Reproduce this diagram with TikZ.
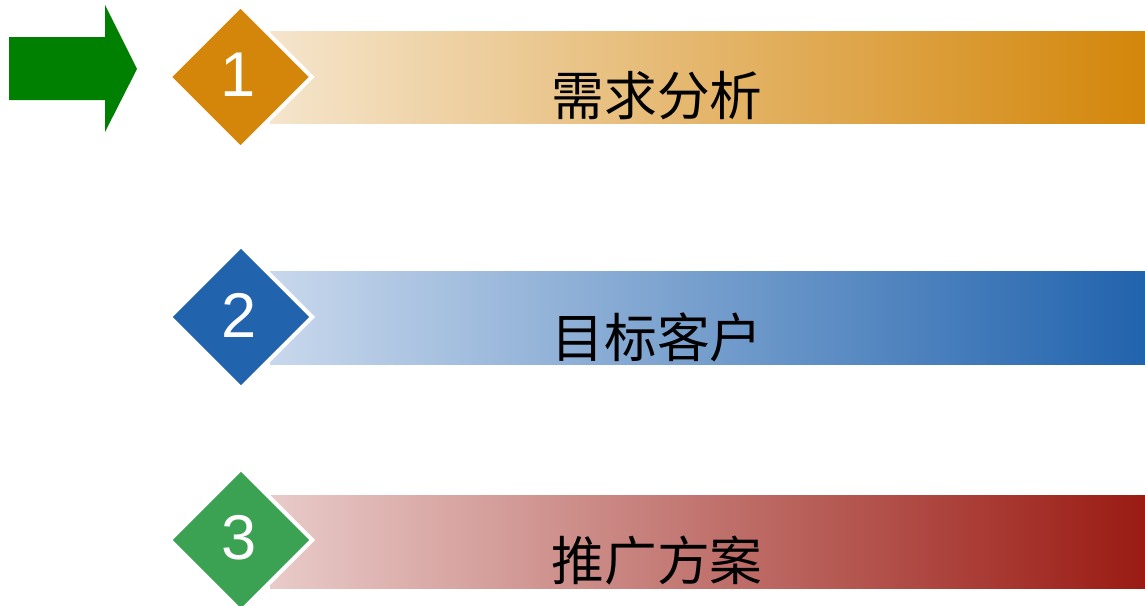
\documentclass[tikz,border=0pt]{standalone}
\usepackage{fontspec}
\setmainfont{Liberation Sans}
\newfontfamily\cjk{Noto Sans CJK SC}
\usetikzlibrary{shapes.geometric,positioning}
\definecolor{morange}{HTML}{D3860A}
\definecolor{lorange}{HTML}{F5E5CC}
\definecolor{mblue}{HTML}{2163AD}
\definecolor{lblue}{HTML}{C8D8EC}
\definecolor{mred}{HTML}{9A1B13}
\definecolor{lred}{HTML}{E8CBC9}
\definecolor{mgreen}{HTML}{3BA254}
\definecolor{arrowgreen}{HTML}{008000}
\tikzset{
    stepdiamond/.style={
        diamond,
        aspect=1,
        minimum width=2.88cm,
        minimum height=2.88cm,
        inner sep=0,
        draw=white, line width=2.3pt
    },
    stepbar/.style={
        rectangle,
        minimum width=17.5cm,
        minimum height=1.86cm,
        inner sep=0
    },
    digit/.style={text=white, font={\fontsize{36pt}{40pt}\selectfont}},
    title/.style={font={\cjk\fontsize{30pt}{34pt}\selectfont}},
}

\begin{document}
\begin{tikzpicture}[x=0.02cm, y=-0.02cm]
    \useasboundingbox (0, 0) rectangle (1145, 605);

    % marker arrow
    \fill [arrowgreen] (9, 37) -- (105, 37) -- (105, 5) -- (137, 69)
        -- (105, 132) -- (105, 100) -- (9, 100) -- cycle;

    \node [stepbar, left color=lorange, right color=morange] (bar1) at (707.5, 77.5) {};
    \node [stepbar, left color=lblue, right color=mblue] (bar2) at (707.5, 318) {};
    \node [stepbar, left color=lred, right color=mred] (bar3) at (707.5, 541.5) {};

    \node [stepdiamond, fill=morange] (d1) at (240.5, 77) {};
    \node [stepdiamond, fill=mblue] (d2) at (241, 317) {};
    \node [stepdiamond, fill=mgreen] (d3) at (241, 540) {};

    \node [digit] (n1) at (238, 75) {1};
    \node [digit] (n2) at (239, 315) {2};
    \node [digit] (n3) at (239, 538) {3};

    \node [title] (t1) at (657, 96) {需求分析};
    \node [title] (t2) at (657, 337) {目标客户};
    \node [title] (t3) at (657, 561) {推广方案};
\end{tikzpicture}
\end{document}
